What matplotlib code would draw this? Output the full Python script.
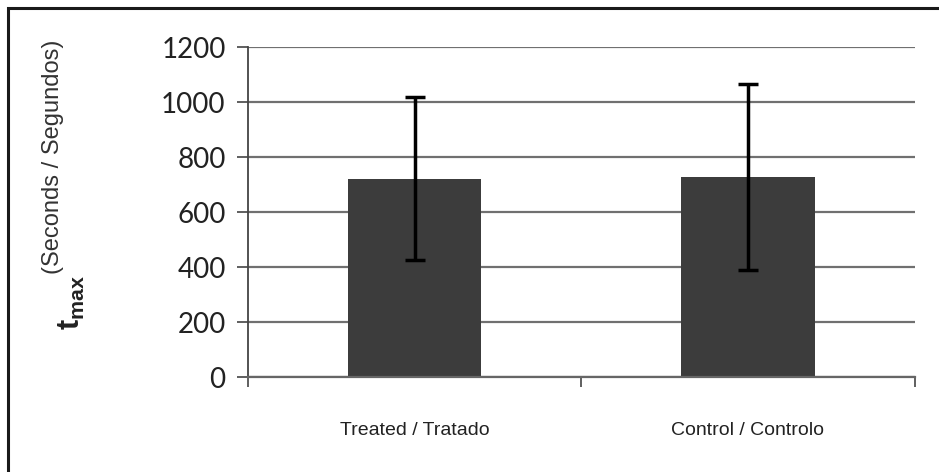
import matplotlib.pyplot as plt
import matplotlib.patches as patches
import numpy as np

# Data
categories = ['Treated / Tratado', 'Control / Controlo']
means = [722, 728]
errors = [298, 338]
yticks = [0, 200, 400, 600, 800, 1000, 1200]

plt.rcParams['mathtext.fontset'] = 'custom'
plt.rcParams['mathtext.bf'] = 'Liberation Sans:bold'
plt.rcParams['mathtext.rm'] = 'Liberation Sans'

fig = plt.figure(figsize=(9.39, 4.72), dpi=100)
ax = fig.add_axes([0.264, 0.201, 0.71, 0.6994])

# outer frame (only top and left edges visible in the scan)
fig.patches.append(patches.Rectangle((0.009, -0.05), 1.05, 0.033 + 1.0,
                                     transform=fig.transFigure, fill=False,
                                     edgecolor='#1a1a1a', linewidth=2.2))

x = np.arange(len(categories)) + 0.5
ax.bar(x, means, width=0.4, color='#3c3c3c', zorder=2)
ax.errorbar(x, means, yerr=errors, fmt='none', ecolor='black',
            elinewidth=2.5, capsize=7, capthick=2.5, zorder=3)

ax.set_xlim(0, 2)
ax.set_ylim(0, 1200)
ax.set_yticks(yticks)
ax.set_yticklabels([str(v) for v in yticks], fontfamily='Lato', fontsize=20,
                   color='#222222')
ax.set_xticks([0, 1, 2])
ax.set_xticklabels([])
ax.tick_params(axis='y', direction='out', length=8, width=1.2, color='#444444', pad=8)
ax.tick_params(axis='x', direction='out', length=7, width=1.2, color='#444444')
ax.yaxis.grid(True, color='#707070', linewidth=1.6, zorder=0)
ax.set_axisbelow(True)

for s in ['top', 'right']:
    ax.spines[s].set_visible(False)
ax.spines['left'].set_color('#444444')
ax.spines['left'].set_linewidth(1.3)
ax.spines['bottom'].set_color('#666666')
ax.spines['bottom'].set_linewidth(1.6)

for xi, lab in zip(x, categories):
    ax.text(xi, -195, lab, ha='center', va='center', fontsize=14,
            family=['Liberation Sans Narrow', 'Liberation Sans'], color='#222222')

# y label: bold t_max with the unit raised after it
fig.text(0.077, 0.36, r'$\mathbf{t_{max}}$', rotation=90,
         ha='center', va='center', fontsize=22, color='#222222')
fig.text(0.056, 0.667, '(Seconds / Segundos)', rotation=90,
         ha='center', va='center', fontsize=17, family='Liberation Sans',
         color='#333333')

fig.savefig('out.png', dpi=100)
